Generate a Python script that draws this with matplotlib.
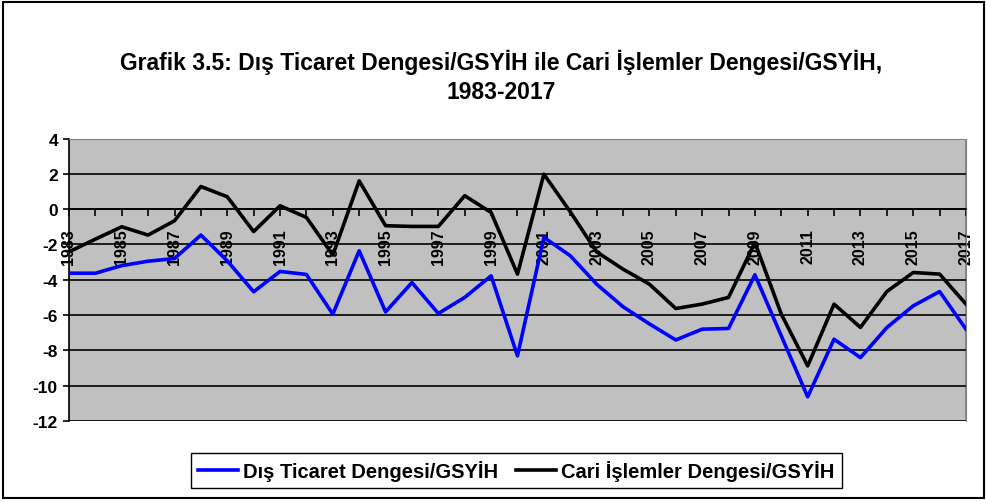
import matplotlib.pyplot as plt
from matplotlib.patches import Rectangle
from matplotlib.ticker import MultipleLocator

plt.rcParams['font.family'] = ['Liberation Sans', 'DejaVu Sans']
plt.rcParams['axes.unicode_minus'] = False

years = list(range(1983, 2018))
dis_ticaret = [-3.63, -3.63, -3.2, -2.95, -2.8, -1.47, -2.93, -4.68, -3.53, -3.7,
               -5.95, -2.36, -5.82, -4.16, -5.91, -5.0, -3.78, -8.31, -1.6, -2.64,
               -4.25, -5.53, -6.5, -7.41, -6.8, -6.76, -3.72, -7.18, -10.63, -7.37,
               -8.41, -6.71, -5.48, -4.67, -6.8]
cari = [-2.42, -1.7, -1.0, -1.47, -0.66, 1.28, 0.7, -1.27, 0.19, -0.47,
        -2.6, 1.6, -0.94, -0.98, -0.98, 0.76, -0.19, -3.68, 1.98, -0.15,
        -2.42, -3.4, -4.25, -5.63, -5.38, -5.0, -1.89, -5.95, -8.88, -5.38,
        -6.7, -4.67, -3.59, -3.68, -5.38]
label_years = [y for y in years if y % 2 == 1]

fig = plt.figure(figsize=(9.87, 5.02), dpi=100)
ax = fig.add_axes([0.0699, 0.1594, 0.9088, 0.5627])
ax.set_facecolor('#c0c0c0')

ax.plot(years, dis_ticaret, color='#0000ff', lw=2.6, label='Dış Ticaret Dengesi/GSYİH', zorder=3)
ax.plot(years, cari, color='black', lw=2.6, label='Cari İşlemler Dengesi/GSYİH', zorder=3)

ax.set_xlim(1983, 2017)
ax.set_ylim(-12, 4)
ax.yaxis.set_major_locator(MultipleLocator(2))
ax.grid(axis='y', color='black', lw=1.2, zorder=1)
ax.set_axisbelow(True)

ax.spines['bottom'].set_position(('data', 0))
ax.spines['bottom'].set_linewidth(1.2)
ax.spines['left'].set_linewidth(1.2)
for s in ['top', 'right']:
    ax.spines[s].set_color('#808080')
ax.add_patch(Rectangle((0, 0), 1, 1, transform=ax.transAxes, fill=False,
                       edgecolor='#808080', lw=1.2, zorder=0.5))

ax.set_xticks(years, minor=True)
ax.set_xticks(label_years)
ax.set_xticklabels([str(y) for y in label_years], rotation=90, fontsize=11.5,
                   fontweight='bold', va='top', ha='center')
ax.tick_params(axis='x', which='both', direction='out', length=5, width=1.2, pad=9)
ax.tick_params(axis='y', direction='out', length=4, width=1.2, labelsize=12.5, pad=4)
for t in ax.get_yticklabels():
    t.set_fontweight('bold')

fig.text(0.508, 0.8765, 'Grafik 3.5: Dış Ticaret Dengesi/GSYİH ile Cari İşlemler Dengesi/GSYİH,',
         ha='center', va='center', fontsize=16.5, fontweight='bold')
fig.text(0.508, 0.8167, '1983-2017', ha='center', va='center', fontsize=16.5, fontweight='bold')

leg = fig.legend(loc='center', bbox_to_anchor=(0.523, 0.06), ncol=2, fancybox=False,
                 edgecolor='black', framealpha=1, handlelength=2.0, handletextpad=0.25,
                 columnspacing=0.9, borderpad=0.35, borderaxespad=0,
                 prop={'weight': 'bold', 'size': 14.5})
leg.get_frame().set_linewidth(1.0)

fig.patches.append(Rectangle((0.003, 0.005), 0.994, 0.99, transform=fig.transFigure,
                             fill=False, edgecolor='black', lw=1.5))

fig.savefig('out.png', dpi=100)
